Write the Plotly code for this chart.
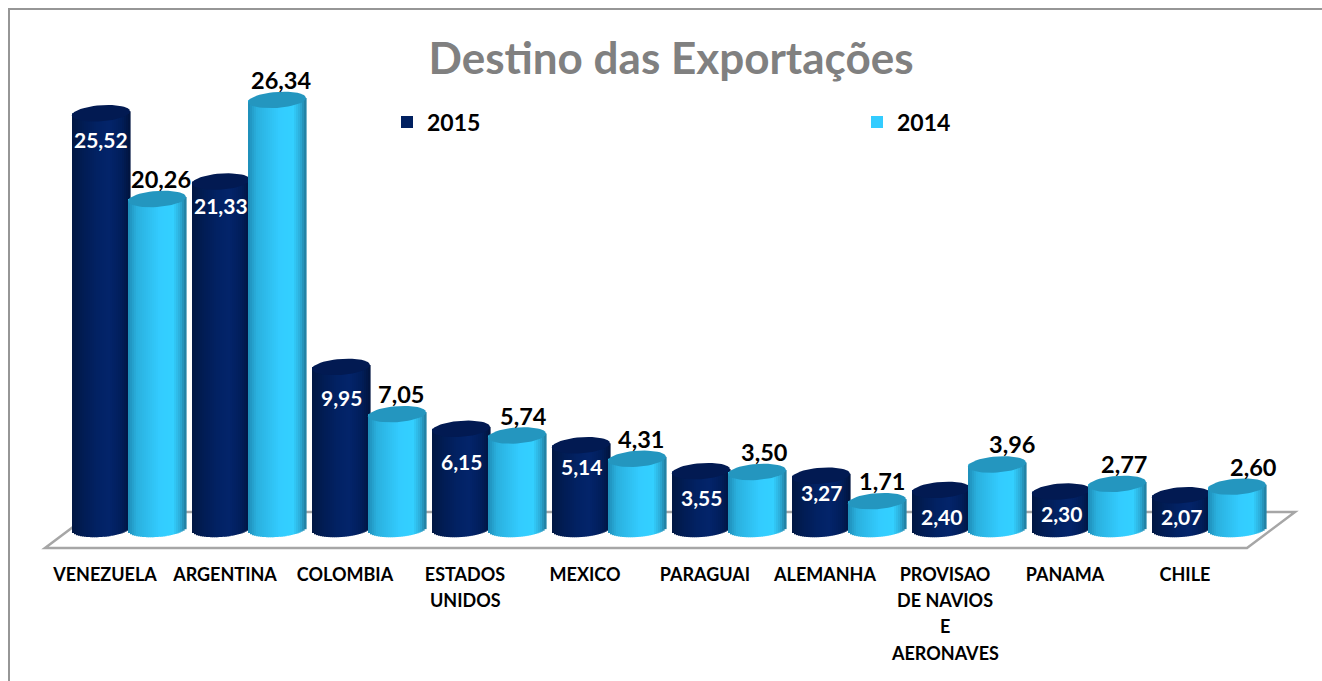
import math
import plotly.graph_objects as go

categories = ["VENEZUELA", "ARGENTINA", "COLOMBIA", "ESTADOS\nUNIDOS", "MEXICO", "PARAGUAI",
              "ALEMANHA", "PROVISAO\nDE NAVIOS\nE\nAERONAVES", "PANAMA", "CHILE"]
values_2015 = [25.52, 21.33, 9.95, 6.15, 5.14, 3.55, 3.27, 2.40, 2.30, 2.07]
values_2014 = [20.26, 26.34, 7.05, 5.74, 4.31, 3.50, 1.71, 3.96, 2.77, 2.60]

W, H = 1322, 681
PLOT_BOTTOM = 550
ZERO_PX = 529
PX_PER_UNIT = 16.29
PX_PER_CAT = 120
TICK0_PX = 105
CYL_W = 58
CAP_B = 8.0
CAP_S = 2.0
N_STRIPS = 29

# hand placement of individual data labels, in pixels
DARK_LABEL_DOWN = [0, -2, 5, 7, -5, 0, -9, 1, -4, -5]
LIGHT_LABEL_RIGHT = [0, 0, 0, 2, 0, 3, 1, 11, 3, 12]

x_range = [-TICK0_PX / PX_PER_CAT, (W - TICK0_PX) / PX_PER_CAT]
y_range = [(ZERO_PX - PLOT_BOTTOM) / PX_PER_UNIT, ZERO_PX / PX_PER_UNIT]


def lerp_color(stops, u):
    for (a, ca), (b, cb) in zip(stops, stops[1:]):
        if a <= u <= b:
            t = (u - a) / (b - a)
            c = [round(ca[i] + (cb[i] - ca[i]) * t) for i in range(3)]
            return f"rgb({c[0]},{c[1]},{c[2]})"
    return f"rgb({stops[-1][1][0]},{stops[-1][1][1]},{stops[-1][1][2]})"


DARK_STOPS = [(-1, (1, 22, 66)), (-0.6, (1, 28, 84)), (-0.1, (2, 34, 100)),
              (0.3, (3, 36, 106)), (0.7, (1, 30, 90)), (1, (1, 20, 62))]
CYAN_STOPS = [(-1, (30, 140, 182)), (-0.7, (42, 176, 222)), (0.1, (51, 204, 255)),
              (0.55, (51, 208, 255)), (0.8, (44, 172, 216)), (1, (34, 122, 156))]


def add_series(fig, name, values, offset_px, stops, cap_color, base_color, xa, ya):
    n = len(values)
    xs = list(range(n))
    fig.add_bar(x=xs, y=values, name=name, marker=dict(color=base_color, line_width=0),
                width=CYL_W / PX_PER_CAT, offset=offset_px / PX_PER_CAT,
                xaxis=xa, yaxis=ya, hoverinfo="skip")
    step = CYL_W / N_STRIPS
    for k in range(N_STRIPS):
        u = -1 + (2 * k + 1) / N_STRIPS
        low = (CAP_B * math.sqrt(max(0, 1 - u * u)) - CAP_S * u) / PX_PER_UNIT
        rise = CAP_S * u / PX_PER_UNIT
        fig.add_bar(x=xs, base=[-low] * n, y=[v + low + rise for v in values],
                    width=(step + 0.6) / PX_PER_CAT,
                    offset=(offset_px + k * step) / PX_PER_CAT,
                    marker=dict(color=lerp_color(stops, u), line_width=0),
                    showlegend=False, xaxis=xa, yaxis=ya, hoverinfo="skip")
    cx0 = (offset_px + CYL_W / 2) / PX_PER_CAT
    a = CYL_W / 2 / PX_PER_CAT
    for i, v in enumerate(values):
        ts = [2 * math.pi * j / 48 for j in range(49)]
        ex = [i + cx0 + a * math.cos(t) for t in ts]
        ey = [v + (CAP_B * math.sin(t) + CAP_S * math.cos(t)) / PX_PER_UNIT for t in ts]
        fig.add_scatter(x=ex, y=ey, mode="lines", fill="toself", fillcolor=cap_color,
                        line=dict(width=0, color=cap_color), showlegend=False,
                        xaxis=xa, yaxis=ya, hoverinfo="skip")


fig = go.Figure()
add_series(fig, "2015", values_2015, -33, DARK_STOPS, "#021a52", "#002060", "x", "y")
add_series(fig, "2014", values_2014, 23, CYAN_STOPS, "#2496bf", "#33ccff", "x2", "y2")

LABEL_FONT = "Lato"
CAT_SIZE = 18
annotations = []
for i, v in enumerate(values_2015):
    annotations.append(dict(x=i, y=v, xref="x2", yref="y2", text=f"{v:.2f}".replace(".", ","),
                            showarrow=False, xshift=-4, yshift=-26 - DARK_LABEL_DOWN[i], yanchor="middle",
                            font=dict(family=LABEL_FONT, size=21, color="white", weight=700)))
for i, v in enumerate(values_2014):
    annotations.append(dict(x=i, y=v, xref="x2", yref="y2", text=f"{v:.2f}".replace(".", ","),
                            showarrow=False, xshift=56 + LIGHT_LABEL_RIGHT[i], yshift=20, yanchor="middle",
                            font=dict(family=LABEL_FONT, size=23.5, color="black", weight=700)))
for i, c in enumerate(categories):
    for k, line in enumerate(c.split("\n")[1:]):
        annotations.append(dict(x=i, y=0, xref="x", yref="paper", text=line, showarrow=False,
                                yanchor="middle", yshift=-(50 + 26.4 * k),
                                font=dict(family=LABEL_FONT, size=CAT_SIZE, color="black", weight=700)))


def py(px):
    return 1 - px / PLOT_BOTTOM


def px_x(px):
    return px / W


shapes = [
    dict(type="path", xref="paper", yref="paper", layer="below",
         path=f"M {px_x(45)} {py(548)} L {px_x(1247)} {py(548)} L {px_x(1295)} {py(512)} L {px_x(93)} {py(512)} Z",
         line=dict(color="#a6a6a6", width=2.5), fillcolor="white"),
    dict(type="path", xref="paper", yref="paper", layer="below",
         path=f"M {px_x(9)} {py(681)} L {px_x(9)} {py(9)} L {px_x(1322)} {py(9)}",
         line=dict(color="#969696", width=2)),
]

axis_common = dict(range=x_range, showgrid=False, zeroline=False, showline=False)
fig.update_layout(
    width=W, height=H, autosize=False,
    margin=dict(l=0, r=0, t=0, b=H - PLOT_BOTTOM, autoexpand=False),
    paper_bgcolor="white", plot_bgcolor="rgba(0,0,0,0)",
    barmode="overlay", showlegend=True,
    title=dict(text="Destino das Exportações", x=671 / W, xanchor="center",
               y=1 - 59 / H, yanchor="middle",
               font=dict(family=LABEL_FONT, size=44, color="#808080", weight=700)),
    legend=dict(orientation="h", x=px_x(387), xanchor="left", y=py(122), yanchor="middle",
                entrywidth=425, entrywidthmode="pixels", bgcolor="rgba(0,0,0,0)",
                font=dict(family=LABEL_FONT, size=23, color="black", weight=700), traceorder="normal"),
    xaxis=dict(**axis_common, tickmode="array", tickvals=list(range(len(categories))),
               ticktext=[c.split("\n")[0] for c in categories], ticks="outside", ticklen=8,
               tickcolor="rgba(0,0,0,0)", tickfont=dict(family=LABEL_FONT, size=CAT_SIZE, color="black", weight=700)),
    yaxis=dict(range=y_range, visible=False),
    xaxis2=dict(**axis_common, overlaying="x", visible=False),
    yaxis2=dict(range=y_range, overlaying="y", visible=False),
    annotations=annotations,
    shapes=shapes,
)
fig.write_html("out.html", default_width=f"{W}px", default_height=f"{H}px",
               config={"displayModeBar": False},
               post_script="document.body.style.margin='0';")
